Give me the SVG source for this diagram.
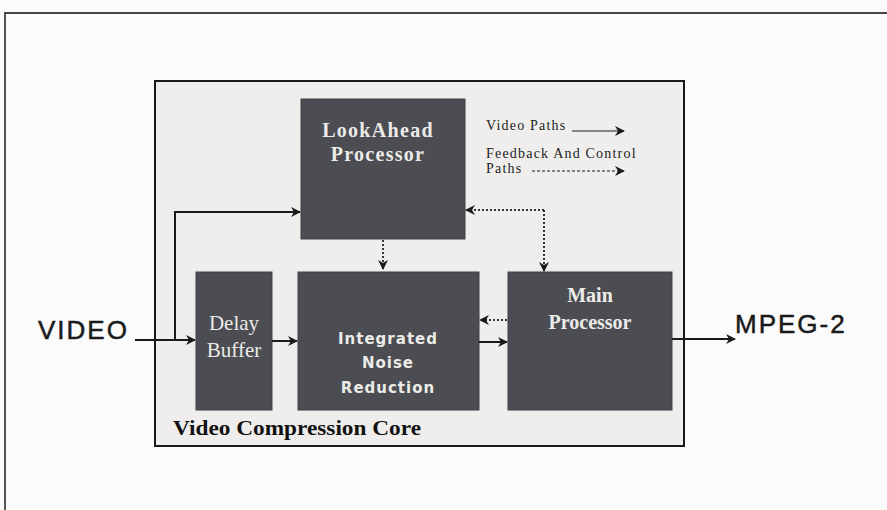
<svg xmlns="http://www.w3.org/2000/svg" width="887" height="510" viewBox="0 0 887 510">
<defs>
<style>
.blk{fill:#4b4d52;stroke:#3e4044;stroke-width:1}
.ser{font-family:"Liberation Serif","Times New Roman",serif;font-weight:bold;fill:#ecebe8;text-anchor:middle}
.serr{font-family:"Liberation Serif","Times New Roman",serif;font-weight:normal;fill:#ecebe8;text-anchor:middle}
.san{font-family:"DejaVu Sans","Liberation Sans",sans-serif;font-weight:bold;fill:#ecebe8;text-anchor:middle}
.lbl{font-family:"Liberation Serif","Times New Roman",serif;fill:#222;font-size:14px;letter-spacing:1.2px}
.big{font-family:"Liberation Sans",Arial,sans-serif;fill:#1a1a1a;font-size:26px;letter-spacing:2px;stroke:#1a1a1a;stroke-width:0.5}
.sol{stroke:#1a1a1a;stroke-width:2;fill:none;marker-end:url(#ah)}
.dot{stroke:#333;stroke-width:2;fill:none;stroke-dasharray:2 2;marker-end:url(#ah)}
.thin{stroke:#1a1a1a;stroke-width:1.2;fill:none;marker-end:url(#ah)}
.thind{stroke:#1a1a1a;stroke-width:1.2;fill:none;stroke-dasharray:3 2;marker-end:url(#ah)}
</style>
<marker id="ah" viewBox="0 0 10 10" refX="9" refY="5" markerWidth="10" markerHeight="10" markerUnits="userSpaceOnUse" orient="auto">
<path d="M0,0 L10,5 L0,10 L3,5 Z" fill="#1a1a1a"/>
</marker>
</defs>
<rect x="0" y="0" width="887" height="510" fill="#fbfbfb"/>
<path d="M5,510 V13 H887" stroke="#444" stroke-width="1.8" fill="none"/>
<g id="core">
<rect x="155" y="81" width="529" height="365" fill="#efeeec" stroke="#1a1a1a" stroke-width="2"/>
<text x="173" y="435" font-family="'Liberation Serif','Times New Roman',serif" font-weight="bold" font-size="20" fill="#111" textLength="248" lengthAdjust="spacingAndGlyphs">Video Compression Core</text>
</g>
<g id="lookahead">
<rect class="blk" x="301" y="99" width="164" height="140"/>
<text class="ser" x="378" y="137" font-size="20" letter-spacing="1.3">LookAhead</text>
<text class="ser" x="378" y="161" font-size="20" letter-spacing="1.3">Processor</text>
</g>
<g id="delay">
<rect class="blk" x="196" y="272" width="76" height="138"/>
<text class="serr" x="234" y="330" font-size="21">Delay</text>
<text class="serr" x="234" y="357" font-size="21">Buffer</text>
</g>
<g id="inr">
<rect class="blk" x="298" y="272" width="181" height="138"/>
<text class="san" x="388" y="344" font-size="15" letter-spacing="1">Integrated</text>
<text class="san" x="388" y="368" font-size="15" letter-spacing="1">Noise</text>
<text class="san" x="388" y="393" font-size="15" letter-spacing="1">Reduction</text>
</g>
<g id="main">
<rect class="blk" x="508" y="272" width="164" height="138"/>
<text class="ser" x="590" y="302" font-size="20">Main</text>
<text class="ser" x="590" y="329" font-size="20">Processor</text>
</g>
<g id="legend">
<text class="lbl" x="486" y="130">Video Paths</text>
<path class="thin" d="M572,131 H624"/>
<text class="lbl" x="486" y="158">Feedback And Control</text>
<text class="lbl" x="486" y="173">Paths</text>
<path class="thind" d="M532,171 H624"/>
</g>
<g id="io">
<text class="big" x="38" y="339">VIDEO</text>
<text class="big" x="735" y="333">MPEG-2</text>
</g>
<g id="connectors">
<path class="sol" d="M135,340 H195"/>
<path class="sol" d="M175,340 V212 H300"/>
<path class="sol" d="M272,341 H297"/>
<path class="sol" d="M479,342 H507"/>
<path class="sol" d="M672,339 H735"/>
<path class="dot" d="M383,240 V269"/>
<path class="dot" d="M544,210 H466"/>
<path class="dot" d="M544,210 V271"/>
<path class="dot" d="M507,320 H480"/>
</g>
</svg>
